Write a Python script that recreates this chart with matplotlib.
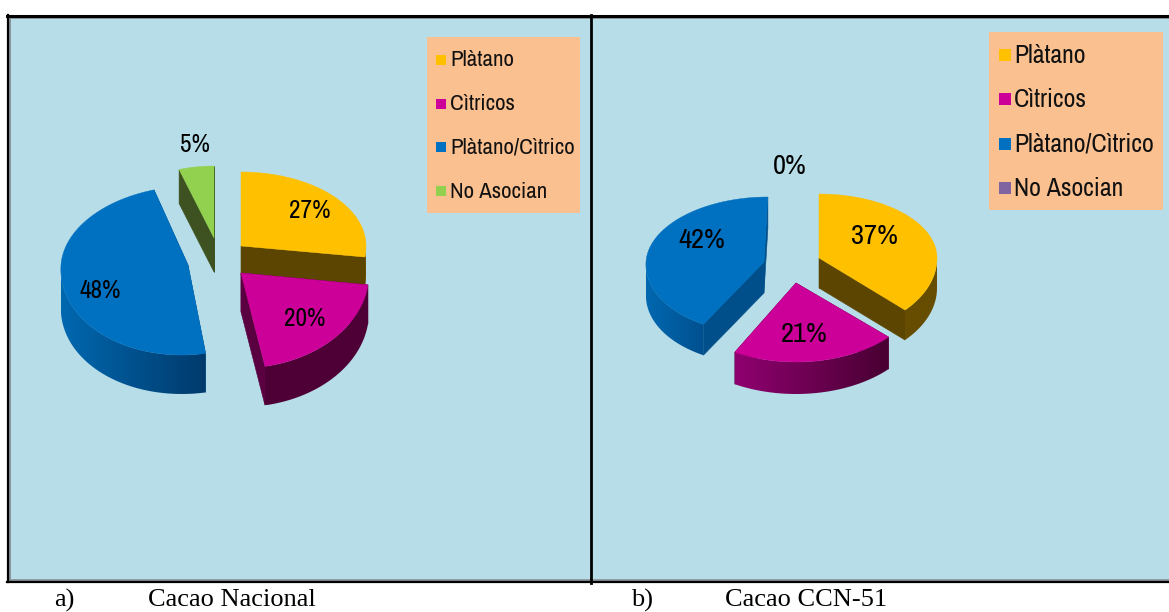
"""Two exploded faux-3D pies (cacao association), drawn on a pixel-sized axes."""
import numpy as np
import matplotlib
matplotlib.use("Agg")
import matplotlib.pyplot as plt
from matplotlib.colors import to_rgb
from matplotlib.patches import Polygon, Rectangle

LABELS_A = ["Plàtano", "Cìtricos", "Plàtano/Cìtrico", "No Asocian"]
VALUES_A = [27, 20, 48, 5]
VALUES_B = [37, 21, 42, 0]
CAPTION_A = ("a)", "Cacao Nacional")
CAPTION_B = ("b)", "Cacao CCN-51")

PANEL = "#B7DDE8"
BOX = "#FBC08F"
COLORS_A = ["#FFC000", "#CC0099", "#0070C0", "#92D050"]
COLORS_B = ["#FFC000", "#CC0099", "#0070C0", "#8064A2"]
NARROW = ["Archivo Narrow", "Liberation Sans"]

# layout per slice: apex x, apex y, rx, ry back, ry front, shear, depth, wall light/dark, cut wall
GEOM_A = [
    (241, 246, 125, 74, 88, 0, 29, "#664D00", "#664D00", "#5c4500"),
    (241, 273, 128, 95, 95, 0, 39, "#4E0036", "#4E0036", "#5a0040"),
    (188, 265, 127, 79, 90, -0.07, 39, "#0068B0", "#003A6B", "#004F8A"),
    (214, 238, 113, 72, 72, 0, 34, "#3D5220", "#3D5220", "#3D5220"),
]
GEOM_B = [
    (819, 258, 118, 64, 76, 0, 30, "#664D00", "#664D00", "#5c4500"),
    (796, 283, 127, 79, 79, 0, 32, "#8F0070", "#480032", "#5a0040"),
    (764, 262, 118, 65, 71, -0.06, 31, "#0068B0", "#00508F", "#004F8A"),
    (0, 0, 1, 1, 1, 0, 1, "#8064A2", "#8064A2", "#8064A2"),
]
LABEL_POS_A = [(310, 211), (305, 318), (100, 291), (195, 145)]
LABEL_POS_B = [(874, 236), (804, 334), (702, 240), (790, 167)]


def rim(geom, angles):
    x0, y0, rx, ry_back, ry_front, shear = geom[:6]
    s = np.sin(angles)
    dy = -np.where(s > 0, ry_back, ry_front) * s
    return x0 + rx * np.cos(angles) + shear * dy, y0 + dy


def draw_slice(ax, start, end, color, geom):
    depth, light, dark, cut = geom[6:]
    angles = np.radians(np.linspace(start, end, 120))
    xs, ys = rim(geom, angles)
    apex = geom[:2]
    z = apex[1]
    # cut walls first, the top face hides whichever ones face away
    for px, py in ((xs[0], ys[0]), (xs[-1], ys[-1])):
        quad = [apex, (px, py), (px, py + depth), (apex[0], apex[1] + depth)]
        ax.add_patch(Polygon(quad, fc=cut, ec=cut, lw=0.4, zorder=z))
    front = np.sin(angles) <= 0
    if front.any():
        fx, fy = xs[front], ys[front]
        wall = np.r_[np.c_[fx, fy], np.c_[fx, fy + depth][::-1]]
        c0, c1 = np.array(to_rgb(light)), np.array(to_rgb(dark))
        ramp = (c0 + (c1 - c0) * np.linspace(0, 1, 256)[:, None])[None, :, :]
        im = ax.imshow(ramp, extent=(fx.min(), fx.max(), fy.max() + depth, fy.min()),
                       aspect="auto", zorder=z)
        clip = Polygon(wall, transform=ax.transData)
        im.set_clip_path(clip)
    top = [apex] + list(zip(xs, ys))
    ax.add_patch(Polygon(top, fc=color, ec=color, lw=0.3, zorder=z + 0.5))


def draw_pie(ax, values, colors, geoms, label_pos, size):
    edges = 90 - np.cumsum([0] + values) * 3.6
    for i, v in enumerate(values):
        if v > 0:
            draw_slice(ax, edges[i], edges[i + 1], colors[i], geoms[i])
        ax.text(*label_pos[i], f"{v}%", ha="center", va="center", fontsize=size,
                family=NARROW, color="black", zorder=500)


def draw_legend(ax, box, colors, first_y, step, mark_x, mark, text_x, size):
    ax.add_patch(Rectangle(box[:2], box[2], box[3], fc=BOX, ec="none", zorder=2))
    for i, (lab, col) in enumerate(zip(LABELS_A, colors)):
        y = first_y + i * step
        ax.add_patch(Rectangle((mark_x, y - mark / 2), mark, mark, fc=col, ec="none", zorder=3))
        ax.text(text_x, y + 0.5, lab, va="center", fontsize=size, family=NARROW, color="#111111", zorder=3)


fig = plt.figure(figsize=(11.69, 6.12), dpi=100)
ax = fig.add_axes([0, 0, 1, 1])
ax.axis("off")

ax.add_patch(Rectangle((8, 15), 1161, 567, fc=PANEL, ec="none", zorder=1))
# frame: grey inner edge inside the black lines
ax.plot([9, 1169], [580, 580], color="#8a9599", lw=2.0, zorder=1.5)
ax.plot([9, 1169], [18, 18], color="#8a9599", lw=1.4, zorder=1.5)
ax.plot([10, 10], [16, 580], color="#8a9599", lw=1.4, zorder=1.5)
ax.plot([7, 1169], [15.5, 15.5], color="black", lw=2.2, zorder=4)
ax.plot([7, 1169], [582, 582], color="black", lw=1.6, zorder=4)
ax.plot([8, 8], [15, 582], color="black", lw=1.6, zorder=4)
ax.plot([590.5, 590.5], [15, 583], color="black", lw=2.0, zorder=4)

draw_pie(ax, VALUES_A, COLORS_A, GEOM_A, LABEL_POS_A, 18.2)
draw_pie(ax, VALUES_B, COLORS_B, GEOM_B, LABEL_POS_B, 20.5)
draw_legend(ax, (427, 37, 153, 176), COLORS_A, 60, 43.7, 436, 10, 450, 16.5)
draw_legend(ax, (989, 32, 174, 178), COLORS_B, 55, 44.3, 999, 12, 1014, 18.6)

for (tag, name), x_tag, x_name in ((CAPTION_A, 54, 148), (CAPTION_B, 631, 725)):
    ax.text(x_tag, 606.5, tag, fontsize=19, family="Liberation Serif", color="black")
    ax.text(x_name, 606.5, name, fontsize=19, family="Liberation Serif", color="black")

# imshow touches the limits, so they are set last
ax.set_xlim(0, 1169)
ax.set_ylim(612, 0)

fig.savefig("out.png", dpi=100)
